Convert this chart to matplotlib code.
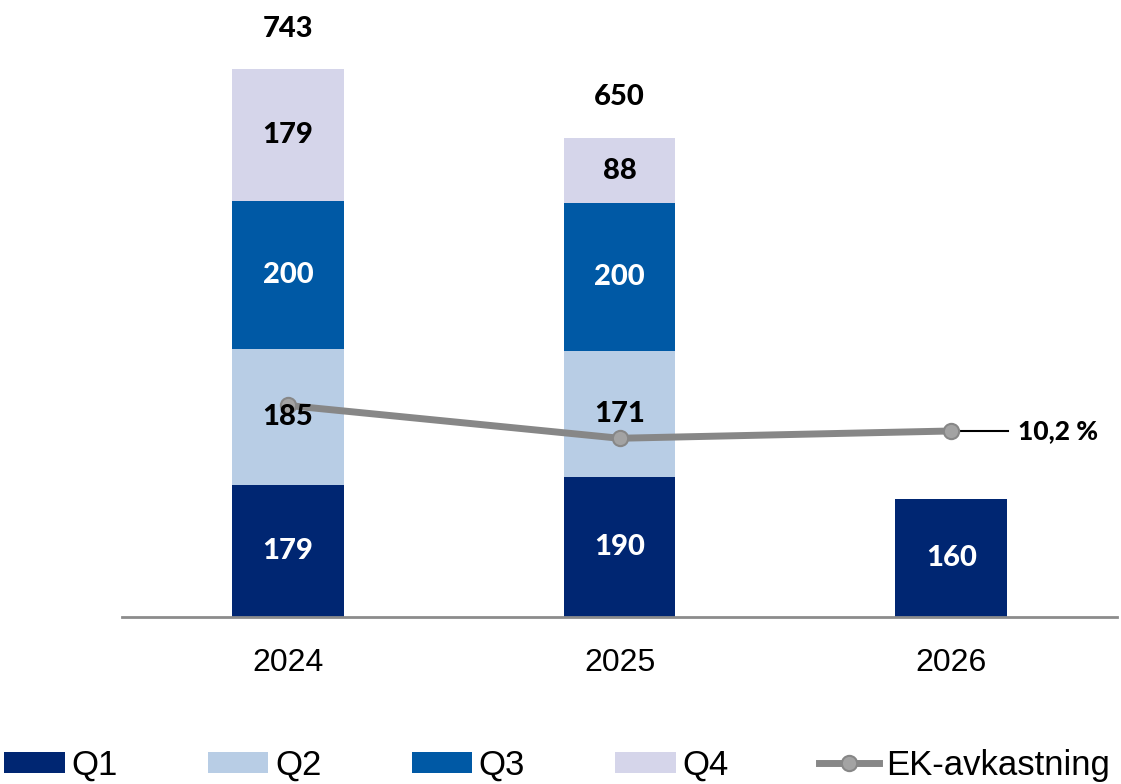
import matplotlib
matplotlib.use("Agg")
import matplotlib.pyplot as plt
import numpy as np

years = ["2024", "2025", "2026"]
q1 = [179, 190, 160]
q2 = [185, 171, 0]
q3 = [200, 200, 0]
q4 = [179, 88, 0]
totals = [743, 650, None]
ek = [11.6, 9.8, 10.2]
ek_label = "10,2 %"

series_names = ["Q1", "Q2", "Q3", "Q4"]
colors = ["#002672", "#B8CDE5", "#0059A5", "#D5D5EA"]
text_colors = ["white", "black", "white", "black"]

W, H = 1121, 784
fig = plt.figure(figsize=(W / 100, H / 100), dpi=100)
ax_left, ax_right = 122 / W, 1117 / W
base_y = (H - 617) / H
ax_h = 590 / H
ax = fig.add_axes([ax_left, base_y, ax_right - ax_left, ax_h])
ax.set_xlim(-0.5, 2.5)
ax.set_ylim(0, 800)

ax2 = ax.twinx()
ax2.set_ylim(0, 32.35)
ax2.set_axis_off()

x = np.arange(len(years))
width = 112 / 332
bottom = np.zeros(len(years))
bold_font = ["Lato", "DejaVu Sans"]
for vals, name, col, tc in zip([q1, q2, q3, q4], series_names, colors, text_colors):
    vals = np.array(vals, dtype=float)
    ax.bar(x, vals, width, bottom=bottom, color=col, label=name, zorder=2)
    for xi, v, b in zip(x, vals, bottom):
        if v > 0:
            ax2.text(xi, b + v / 2, f"{int(v)}", ha="center", va="center",
                     color=tc, fontsize=21, fontweight="black", family=bold_font,
                     transform=ax.transData, zorder=10)
    bottom += vals

for xi, t in zip(x, totals):
    if t is not None:
        ax.annotate(f"{t}", (xi, t), xytext=(0, 29), textcoords="offset points",
                    ha="center", va="center", fontsize=21, fontweight="black",
                    family=bold_font)

for s in ["top", "right", "left"]:
    ax.spines[s].set_visible(False)
ax.spines["bottom"].set_color("#8c8c8c")
ax.spines["bottom"].set_linewidth(2)
ax.set_yticks([])
ax.set_xticks(x)
ax.set_xticklabels(years, fontsize=23, family=["Liberation Sans", "DejaVu Sans"])
ax.tick_params(axis="x", length=0, pad=22)

line, = ax2.plot(x, ek, color="#878787", linewidth=5, marker="o", markersize=11,
                 markerfacecolor="#a3a3a3", markeredgecolor="#878787", markeredgewidth=1.5,
                 label="EK-avkastning", zorder=4)
ax2.plot([x[-1], x[-1] + 0.17], [ek[-1], ek[-1]], color="black", lw=1.5, zorder=3)
ax2.text(x[-1] + 0.2, ek[-1], ek_label, ha="left", va="center", fontsize=19,
         fontweight="black", family=bold_font)

handles, labels = ax.get_legend_handles_labels()
handles.append(line)
labels.append("EK-avkastning")
fig.legend(handles, labels, loc="lower left", bbox_to_anchor=(0.004, 0.003), ncol=5,
           frameon=False, prop={"family": ["Liberation Sans", "DejaVu Sans"], "size": 25},
           handlelength=1.73, handleheight=0.58, handletextpad=0.2, columnspacing=2.6,
           borderaxespad=0, borderpad=0)

fig.savefig("out.png", dpi=100)
